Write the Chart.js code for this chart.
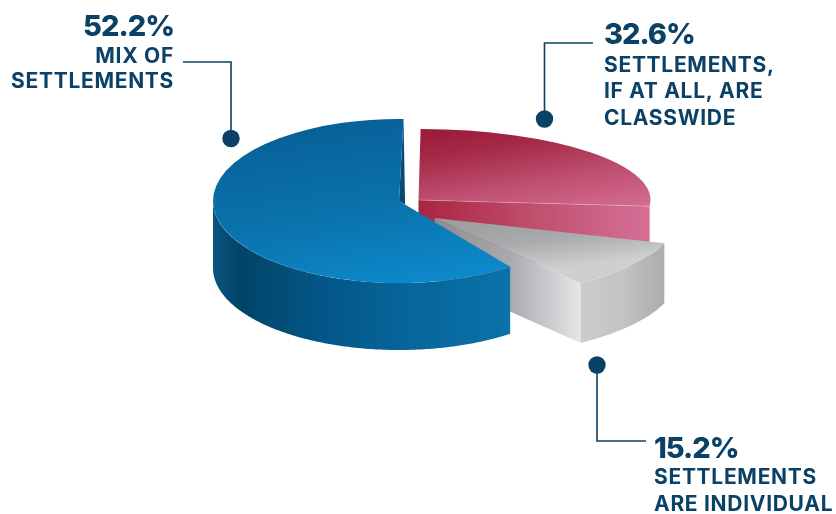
<!DOCTYPE html>
<html><head><meta charset="utf-8">
<style>html,body{margin:0;padding:0;background:#fff}canvas{display:block}</style>
<script src="https://cdn.jsdelivr.net/npm/chart.js@4/dist/chart.umd.min.js"></script>
</head><body><canvas id="c" width="836" height="514"></canvas>
<script>
// ---- data ----
const categories = ["MIX OF SETTLEMENTS", "SETTLEMENTS, IF AT ALL, ARE CLASSWIDE", "SETTLEMENTS ARE INDIVIDUAL"];
const shares = [52.2, 32.6, 15.2];
const valueLabels = ["52.2%", "32.6%", "15.2%"];
const captionLines = [["MIX OF", "SETTLEMENTS"], ["SETTLEMENTS,", "IF AT ALL, ARE", "CLASSWIDE"], ["SETTLEMENTS", "ARE INDIVIDUAL"]];

// ---- styling: how each slice is projected into the tilted 3D view ----
const INK = "#0b4166";
const deg = Math.PI / 180;
const views = [
  {dx:-19, dy:-56, rx:186, ry:82, depth:67, turn:-28.8, sweep:1.1606, wall:[[0,"#0a547f"],[0.09,"#024468"],[0.4,"#03588a"],[0.65,"#07659a"],[1,"#0a72aa"]], wallX:[213,510],
   top:[[0,"#08629a"],[0.45,"#0a72ab"],[1,"#0d8dcf"]], topLine:[330,130,470,290]},
  {dx:0.5, dy:-57, rx:232, ry:71, depth:60, turn:0.5, sweep:0.805, top:[[0,"#9b1a38"],[0.25,"#a52a48"],[0.6,"#be4f6f"],[1,"#d56f96"]], topLine:[455,125,615,215],
   face:{x:[417,650], stops:[[0,"#a82341"],[0.5,"#bf4f6d"],[1,"#d67097"]]}, seam:"rgba(255,255,255,0.22)"},
  {dx:16.5, dy:-39, rx:241.6, ry:81.6, depth:60, turn:-9.4, sweep:0.636, wall:[[0,"#cbccce"],[0.5,"#c2c3c5"],[1,"#abacae"]], wallX:[581,665],
   top:[[0,"#98999b"],[0.45,"#a9aaac"],[0.8,"#cfd0d2"],[1,"#cbccce"]], topLine:[490,205,580,285],
   face:{x:[435,581], stops:[[0,"#8b8c8e"],[0.5,"#a8a9ac"],[1,"#e5e6e8"]]}}
];
const callouts = [
  {align:"right", x:174, numY:36, lineY:[63,88], line:[[183,62],[231,62],[231,138.5]]},
  {align:"left", x:604, numY:44, lineY:[71.5,98,124.5], line:[[593,43],[544.5,43],[544.5,119]]},
  {align:"left", x:654, numY:458, lineY:[484,510.5], line:[[597,365],[597,441],[646,441]]}
];

function makeGrad(ctx, coords, stops){
  const g = ctx.createLinearGradient(coords[0],coords[1],coords[2],coords[3]);
  stops.forEach(s => g.addColorStop(s[0], s[1]));
  return g;
}
function geometry(el, v){
  const cx = el.x + v.dx, cy = el.y + v.dy;
  const start = el.startAngle + v.turn*deg;
  const end = start + (el.endAngle - el.startAngle)*v.sweep;
  const pt = a => [cx + v.rx*Math.cos(a), cy + v.ry*Math.sin(a)];
  return {cx, cy, start, end, pt};
}
const pie3d = {
  id:"pie3d",
  beforeDatasetDraw(chart){
    const ctx = chart.ctx, arcs = chart.getDatasetMeta(0).data;
    // painter's order: back slice, right slice, large front slice
    [1,2,0].forEach(i => {
      const el = arcs[i], v = views[i], g = geometry(el, v), R = el.outerRadius;
      ctx.save();
      if (i === 0) { // sliver of the cut wall at the slice's rear edge
        const p = g.pt(g.end), q = g.pt(g.start);
        const t = 0.055;
        ctx.fillStyle = "#064b75";
        ctx.beginPath(); ctx.moveTo(p[0],p[1]); ctx.lineTo(g.cx,g.cy);
        ctx.lineTo(g.cx+(q[0]-g.cx)*t, g.cy+(q[1]-g.cy)*t); ctx.closePath(); ctx.fill();
      }
      if (v.face) { // radial cut face
        const e = g.pt(g.end);
        ctx.fillStyle = makeGrad(ctx,[v.face.x[0],0,v.face.x[1],0],v.face.stops);
        ctx.beginPath(); ctx.moveTo(g.cx,g.cy); ctx.lineTo(e[0],e[1]);
        ctx.lineTo(e[0],e[1]+v.depth); ctx.lineTo(g.cx,g.cy+v.depth); ctx.closePath(); ctx.fill();
      }
      if (v.wall) { // outer curved wall (only its front half can be seen)
        ctx.fillStyle = makeGrad(ctx,[v.wallX[0],0,v.wallX[1],0],v.wall);
        const tau = Math.PI*2;
        let a0 = g.start, a1 = g.end;
        const frontEnd = Math.PI; // canvas angle of the leftmost point
        while (a0 > frontEnd) { a0 -= tau; a1 -= tau; }
        a1 = Math.min(a1, frontEnd);
        ctx.beginPath();
        for (let a=a0; a<a1; a+=deg/2){ const p=g.pt(a); ctx.lineTo(p[0],p[1]); }
        const pe=g.pt(a1); ctx.lineTo(pe[0],pe[1]);
        for (let a=a1; a>a0; a-=deg/2){ const p=g.pt(a); ctx.lineTo(p[0],p[1]+v.depth); }
        const ps=g.pt(a0); ctx.lineTo(ps[0],ps[1]+v.depth);
        ctx.closePath(); ctx.fill();
      }
      // top face: the library's own arc element, squashed into the view
      const saved = {s:el.startAngle,e:el.endAngle,c:el.circumference,o:el.options};
      const sx = v.rx/R, sy = v.ry/R;
      const toEl = (px,py) => [el.x+(px-g.cx)/sx, el.y+(py-g.cy)/sy];
      const a = toEl(v.topLine[0],v.topLine[1]), b = toEl(v.topLine[2],v.topLine[3]);
      const fill = makeGrad(ctx,[a[0],a[1],b[0],b[1]],v.top);
      ctx.save();
      el.startAngle = g.start; el.endAngle = g.end; el.circumference = g.end-g.start;
      el.options = Object.assign({}, saved.o, {backgroundColor:fill, borderWidth:0});
      ctx.translate(g.cx,g.cy); ctx.scale(sx,sy); ctx.translate(-el.x,-el.y);
      el.draw(ctx);
      el.startAngle=saved.s; el.endAngle=saved.e; el.circumference=saved.c; el.options=saved.o;
      ctx.restore();
      if (v.seam) {
        const e = g.pt(g.end);
        ctx.strokeStyle = v.seam; ctx.lineWidth = 1;
        ctx.beginPath(); ctx.moveTo(g.cx,g.cy); ctx.lineTo(e[0],e[1]); ctx.stroke();
      }
      ctx.restore();
    });
    return false;
  },
  afterDraw(chart){
    const ctx = chart.ctx;
    ctx.save();
    callouts.forEach((c,i) => {
      ctx.strokeStyle = INK; ctx.lineWidth = 1.6; ctx.lineJoin="miter";
      ctx.beginPath(); c.line.forEach((p,k)=> k?ctx.lineTo(p[0],p[1]):ctx.moveTo(p[0],p[1])); ctx.stroke();
      const dot = i===2 ? c.line[0] : c.line[c.line.length-1];
      ctx.fillStyle = INK; ctx.beginPath(); ctx.arc(dot[0],dot[1],8.7,0,Math.PI*2); ctx.fill();
      ctx.textAlign = c.align; ctx.textBaseline = "alphabetic";
      ctx.font = "800 29px Inter, Roboto, sans-serif";
      ctx.letterSpacing = "-1px";
      ctx.fillText(valueLabels[i], c.x, c.numY);
      ctx.font = "700 21px Inter, Roboto, sans-serif";
      ctx.letterSpacing = "0.7px";
      captionLines[i].forEach((t,k)=> ctx.fillText(t, c.x, c.lineY[k]));
    });
    ctx.restore();
  }
};
new Chart(document.getElementById("c"), {
  type:"pie",
  data:{labels:categories, datasets:[{data:shares, backgroundColor:["#0a72ab","#b53a5a","#b5b6b8"], borderWidth:0}]},
  options:{responsive:false, animation:false, rotation:172.1,
    layout:{padding:0}, plugins:{legend:{display:false}, tooltip:{enabled:false}}},
  plugins:[pie3d]
});
</script></body></html>
